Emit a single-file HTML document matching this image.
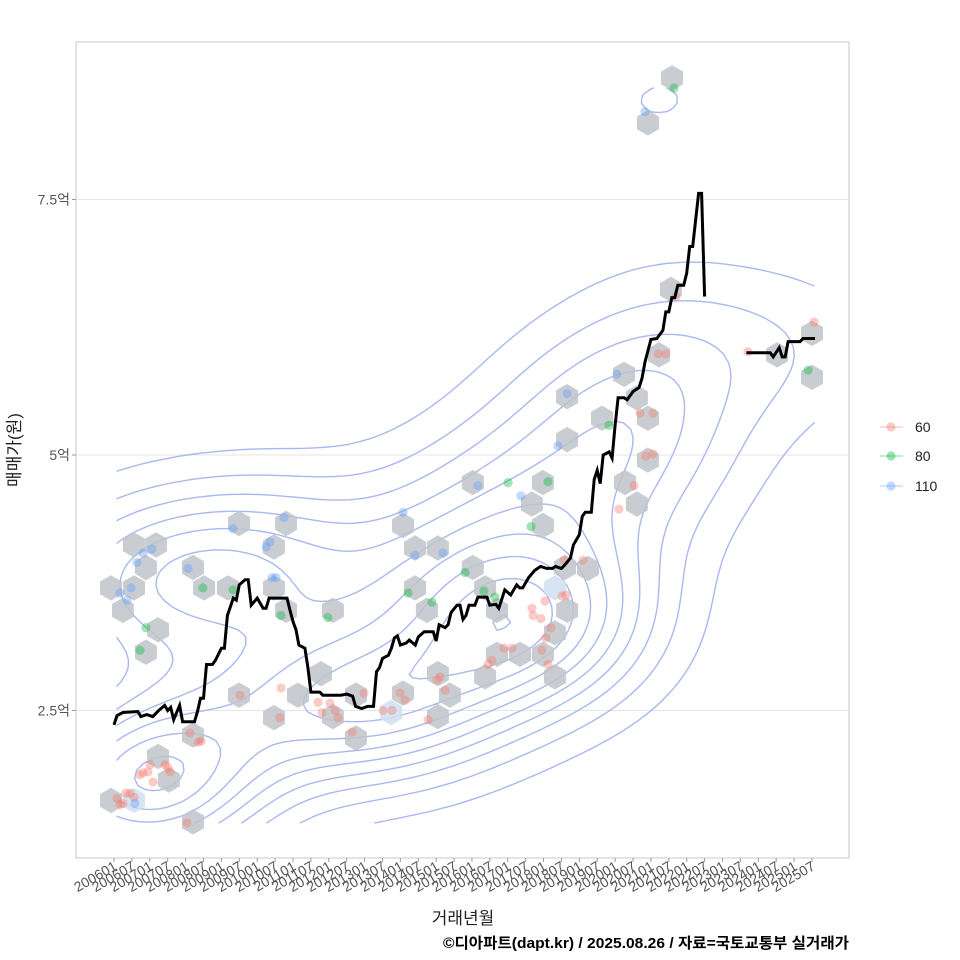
<!DOCTYPE html>
<html><head><meta charset="utf-8">
<style>
html,body{margin:0;padding:0;background:#fff;}
svg{display:block;font-family:"Liberation Sans","Noto Sans CJK KR",sans-serif;}
</style></head>
<body>
<svg id="chart" width="960" height="960" viewBox="0 0 960 960">
  <rect x="0" y="0" width="960" height="960" fill="#fff"/>
  <rect x="76" y="42" width="773" height="816" fill="#fff" stroke="#c8c8c8" stroke-width="1"/>
  <g id="grid"></g>
  <g id="contours"></g>
  <g id="hexes"></g>
  <g id="points"></g>
  <g id="median"></g>
  <g id="yaxis"></g>
  <g id="xaxis"></g>
  <text x="463" y="924" text-anchor="middle" font-size="17" fill="#222">거래년월</text>
  <text transform="translate(20,450) rotate(-90)" text-anchor="middle" font-size="17" fill="#222">매매가(원)</text>
  <text x="849" y="948" text-anchor="end" font-size="15" font-weight="bold" fill="#000" textLength="406" lengthAdjust="spacingAndGlyphs">©디아파트(dapt.kr) / 2025.08.26 / 자료=국토교통부 실거래가</text>
  <g id="legend"></g>
</svg>
<script>
// ---- data ----
const yTicks = [2.5, 5, 7.5];
const yTickLabels = ["2.5억", "5억", "7.5억"];
const xTickLabels = [];
for (let y = 2006; y <= 2025; y++) { xTickLabels.push(y + "01"); xTickLabels.push(y + "07"); }
const medMonths = [0,1,3,8,9,11,13,15,17,18,19,20,22,23,27,28,29,30,31,33,34,36,37,38,40,41,42,44,45,46,48,50,51,52,58,59,60,61,62,64,65,66,69,70,76,78,80,81,83,85,87,88,89,90,92,93,94,95,96,98,99,101,102,104,107,108,109,111,112,113,115,116,117,118,119,121,122,125,126,128,129,131,133,135,136,137,139,141,143,145,147,148,150,151,153,154,156,157,158,160,161,162,163,164,166,167,168,169,171,172,174,176,177,178,180,182,184,185,186,187,188,189,191,192,193,194,196,197,198,205,212,220,221,223,224,225,226,230,231,235];
const medValues = [2.36,2.45,2.48,2.49,2.44,2.46,2.44,2.50,2.55,2.50,2.53,2.41,2.55,2.39,2.39,2.49,2.62,2.62,2.95,2.95,2.99,3.11,3.11,3.43,3.60,3.58,3.73,3.78,3.78,3.53,3.60,3.50,3.50,3.60,3.60,3.48,3.37,3.29,3.14,3.11,2.92,2.68,2.68,2.65,2.65,2.66,2.64,2.54,2.52,2.54,2.54,2.88,2.92,3.01,3.04,3.11,3.21,3.23,3.14,3.16,3.19,3.14,3.22,3.27,3.27,3.18,3.34,3.31,3.34,3.46,3.53,3.53,3.39,3.43,3.53,3.53,3.61,3.61,3.53,3.54,3.50,3.68,3.63,3.73,3.70,3.70,3.80,3.87,3.91,3.89,3.89,3.91,3.89,3.92,3.99,4.12,4.22,4.40,4.44,4.44,4.76,4.85,4.72,5.00,5.03,4.97,5.29,5.56,5.56,5.54,5.62,5.66,5.75,5.91,6.13,6.14,6.22,6.40,6.40,6.54,6.54,6.66,6.66,6.78,7.04,7.04,7.56,7.56,6.55,null,6.00,6.00,5.96,6.05,5.96,5.96,6.11,6.11,6.14,6.14];
const hexMonths = [6.7,14.1,10.7,-1.0,6.7,3.0,14.8,10.7,41.9,57.7,53.6,26.5,30.2,38.2,53.6,57.7,73.4,41.9,53.6,69.4,61.7,73.4,81.1,81.1,26.5,14.8,18.4,6.7,-1.0,26.5,92.9,120.3,143.8,140.1,143.8,96.9,100.9,108.6,120.3,100.9,104.9,124.4,128.4,151.2,158.9,147.8,151.9,147.8,128.4,136.1,143.8,147.8,124.4,108.6,112.6,108.6,96.9,175.3,179.0,171.3,187.1,179.0,186.7,182.7,171.0,175.3,179.0,151.9,163.6,151.9,222.3,234.0,234.0];
const hexValues = [4.12,4.12,3.90,3.70,3.70,3.48,3.29,3.07,4.33,4.33,4.10,3.90,3.70,3.70,3.70,3.48,3.48,2.65,2.43,2.86,2.65,2.44,2.65,2.23,2.26,2.05,1.82,1.62,1.62,1.41,2.48,4.73,4.73,4.52,4.31,4.31,4.09,4.09,3.90,3.70,3.48,3.70,3.48,3.90,3.89,3.70,3.48,3.26,3.05,3.05,3.05,2.83,2.83,2.86,2.65,2.44,2.67,4.52,4.95,4.73,8.69,8.25,6.62,5.98,5.79,5.56,5.36,5.57,5.36,5.15,5.98,6.19,5.76];
const hexLight = [27, 30, 45];
const blueMonths = [2.0,4.4,5.7,7.7,9.7,12.7,24.8,39.9,51.0,52.3,53.0,54.3,57.0,96.9,100.9,110.3,122.0,136.4,148.8,151.9,168.6,178.0,7.0];
const blueValues = [3.65,3.58,3.70,3.95,4.04,4.08,3.89,4.28,4.10,4.15,3.80,3.80,4.39,4.44,4.02,4.04,4.70,4.60,5.09,5.60,5.79,8.36,1.59];
const greenMonths = [10.7,8.7,29.8,39.9,56.0,71.7,98.6,106.6,117.7,124.0,132.1,139.8,145.5,165.9,187.7,232.7,127.7];
const greenValues = [3.31,3.09,3.70,3.68,3.43,3.41,3.65,3.56,3.85,3.67,4.73,4.30,4.74,5.29,8.59,5.83,3.61];
const redMonths = [1.0,3.0,4.0,5.4,6.7,8.7,9.7,11.4,12.1,13.1,18.1,18.8,17.1,2.0,24.5,25.5,28.2,29.2,42.2,56.0,55.6,68.4,69.7,72.4,74.1,75.1,79.8,83.8,90.2,93.2,95.9,97.6,105.3,108.3,109.3,111.0,125.4,126.7,130.7,133.4,143.5,145.5,144.8,146.5,140.1,140.5,143.1,144.5,150.2,151.5,150.9,157.2,169.3,174.3,176.3,178.3,180.7,180.7,182.4,185.0,188.4,212.5,234.7];
const redValues = [1.64,1.59,1.69,1.69,1.65,1.87,1.89,1.90,1.97,1.80,1.94,1.90,1.97,1.58,1.40,2.28,2.19,2.20,2.65,2.72,2.43,2.58,2.48,2.57,2.50,2.43,2.29,2.67,2.50,2.50,2.67,2.60,2.41,2.80,2.83,2.70,2.95,2.99,3.11,3.11,3.09,2.95,3.21,3.31,3.50,3.43,3.40,3.57,3.62,3.63,3.97,3.97,4.47,4.70,5.41,4.99,5.01,5.41,5.99,5.99,6.55,6.01,6.30];
const legendLabels = ["60","80","110"];
const seriesColors = ["#F8766D","#00BA38","#619CFF"];

// ---- scales ----
function X(m){ return 114 + m * 698 / 234; }
function Y(v){ return 455 - (v - 5) * 102.2; }
const NS = "http://www.w3.org/2000/svg";
function mk(tag, attrs, parent){ const e = document.createElementNS(NS, tag); for (const k in attrs) e.setAttribute(k, attrs[k]); parent.appendChild(e); return e; }

const grid = document.getElementById('grid'), yaxis = document.getElementById('yaxis');
yTicks.forEach((t, i) => {
  const g = mk('line', {x1:77, x2:848, y1:Y(t), y2:Y(t), stroke:'#e6e6e6', 'stroke-width':1}, grid);
  
  
  const tk = mk('line', {x1:72, x2:76, y1:Y(t), y2:Y(t), stroke:'#999', 'stroke-width':1}, yaxis);
  
  
  const tx = mk('text', {x:70, y:Y(t)+5, 'text-anchor':'end', 'font-size':14, fill:'#555'}, yaxis);
  tx.textContent = yTickLabels[i];
  
  
});
const xaxis = document.getElementById('xaxis');
xTickLabels.forEach((lab, i) => {
  const x = X(i * 6);
  const tk = mk('line', {x1:x, x2:x, y1:858, y2:862, stroke:'#999', 'stroke-width':1}, xaxis);
  
  
  const tx = mk('text', {transform:`translate(${x+4},${869}) rotate(-30)`, 'text-anchor':'end', 'font-size':14, fill:'#555'}, xaxis);
  tx.textContent = lab;
  
  
});

// ---- KDE contours ----
const allM = blueMonths.concat(greenMonths, redMonths);
const allV = blueValues.concat(greenValues, redValues);
function quant(a, p){ const s = a.slice().sort((x,y)=>x-y); const h = (s.length-1)*p; const lo = Math.floor(h); return s[lo] + (h-lo)*((s[Math.min(lo+1,s.length-1)]) - s[lo]); }
function bw(a){ const n=a.length, mu=a.reduce((s,v)=>s+v,0)/n; const sd=Math.sqrt(a.reduce((s,v)=>s+(v-mu)*(v-mu),0)/(n-1)); const iqr=quant(a,.75)-quant(a,.25); return 1.06*Math.min(sd, iqr/1.34)*Math.pow(n,-0.2); }
(function(){
  const hx = bw(allM), hy = bw(allV), N = 100;
  const x0 = Math.min(...allM), x1 = Math.max(...allM), y0 = Math.min(...allV), y1 = Math.max(...allV);
  const gx = [], gy = [], z = [];
  for (let i=0;i<N;i++){ gx.push(x0+(x1-x0)*i/(N-1)); gy.push(y0+(y1-y0)*i/(N-1)); }
  let zmax = 0;
  for (let j=0;j<N;j++){ z.push([]); for (let i=0;i<N;i++){ let s=0; for (let k=0;k<allM.length;k++){ const a=(gx[i]-allM[k])/hx, b=(gy[j]-allV[k])/hy; s+=Math.exp(-0.5*(a*a+b*b)); } s/= (allM.length*2*Math.PI*hx*hy); z[j].push(s); if(s>zmax) zmax=s; } }
  const raw = zmax/10, p = Math.pow(10, Math.floor(Math.log10(raw))), r = raw/p;
  const step = (r<1.5?1:r<3.5?2:r<7.5?5:10)*p;
  const levels = []; for (let l=step; l<zmax; l+=step) levels.push(l);
  const cg = document.getElementById('contours');
  levels.forEach(L => {
    let d = '';
    for (let j=0;j<N-1;j++) for (let i=0;i<N-1;i++){
      const c = [[gx[i],gy[j],z[j][i]],[gx[i+1],gy[j],z[j][i+1]],[gx[i+1],gy[j+1],z[j+1][i+1]],[gx[i],gy[j+1],z[j+1][i]]];
      const pts = [];
      for (let e=0;e<4;e++){ const A=c[e], B=c[(e+1)%4]; if ((A[2]<L)!==(B[2]<L)){ const t=(L-A[2])/(B[2]-A[2]); pts.push([A[0]+t*(B[0]-A[0]), A[1]+t*(B[1]-A[1])]); } }
      for (let q=0;q+1<pts.length;q+=2) d += `M${X(pts[q][0]).toFixed(1)},${Y(pts[q][1]).toFixed(1)}L${X(pts[q+1][0]).toFixed(1)},${Y(pts[q+1][1]).toFixed(1)}`;
    }
    const pth = mk('path', {d, fill:'none', stroke:'#a9b8f0', 'stroke-width':1.4, 'stroke-linecap':'round'}, cg);
    
    
  });
})();

// ---- hexes ----
const hg = document.getElementById('hexes');
hexMonths.forEach((m, i) => {
  const cx = X(m), cy = Y(hexValues[i]), R = 12.7;
  let pts = [];
  for (let k=0;k<6;k++){ const a = Math.PI/6 + k*Math.PI/3; pts.push((cx+R*Math.cos(a)).toFixed(1)+','+(cy+R*Math.sin(a)).toFixed(1)); }
  const h = mk('polygon', {points: pts.join(' '), fill: hexLight.includes(i) ? '#cfe0ee' : '#bfc4c9', 'fill-opacity':0.85}, hg);
  
  
});

// ---- points ----
const pg = document.getElementById('points');
[[redMonths, redValues, 0, 'point-60'], [greenMonths, greenValues, 1, 'point-80'], [blueMonths, blueValues, 2, 'point-110']].forEach(([ms, vs, ci, nm]) => {
  ms.forEach((m, i) => {
    const c = mk('circle', {cx:X(m), cy:Y(vs[i]), r:4.6, fill:seriesColors[ci], 'fill-opacity':0.38}, pg);
    
    
  });
});

// ---- median line ----
(function(){
  let d = '', pen = false;
  medMonths.forEach((m, i) => {
    const v = medValues[i];
    if (v === null) { pen = false; return; }
    d += (pen ? 'L' : 'M') + X(m).toFixed(1) + ',' + Y(v).toFixed(1);
    pen = true;
  });
  const l = mk('path', {d, fill:'none', stroke:'#000', 'stroke-width':3, 'stroke-linejoin':'miter'}, document.getElementById('median'));
  
  
})();

// ---- legend ----
const lg = document.getElementById('legend');
const legY = [427, 456, 486];
legendLabels.forEach((lab, i) => {
  const g = mk('g', {}, lg);
  
  
  mk('line', {x1:880, x2:903, y1:legY[i], y2:legY[i], stroke:seriesColors[i], 'stroke-opacity':0.35, 'stroke-width':1.5}, g);
  mk('circle', {cx:891, cy:legY[i], r:4.6, fill:seriesColors[i], 'fill-opacity':0.4}, g);
  const t = mk('text', {x:915, y:legY[i]+5, 'font-size':14, fill:'#222'}, g);
  t.textContent = lab;
});
</script>
</body></html>
